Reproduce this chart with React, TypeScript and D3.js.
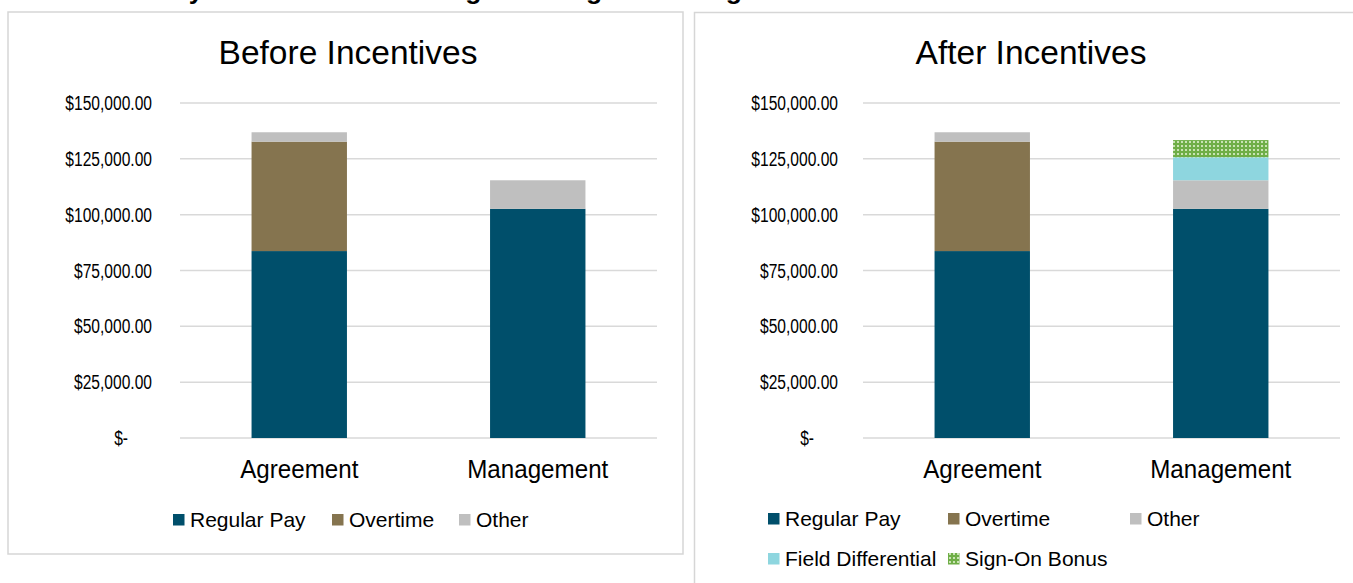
import React from "react";
import * as d3 from "d3";

const categories = ["Agreement", "Management"];
const yTicks = [0, 25000, 50000, 75000, 100000, 125000, 150000];

const beforeSeries = ["Regular Pay", "Overtime", "Other"];
const afterSeries = ["Regular Pay", "Overtime", "Other", "Field Differential", "Sign-On Bonus"];

const regularPay = [83700, 102600];
const overtime = [49000, 0];
const other = [4200, 12800];
const fieldDifferential = [0, 10300];
const signOnBonus = [0, 7700];

const seriesColors: Record<string, string> = {
  "Regular Pay": "#004f6b",
  "Overtime": "#85744f",
  "Other": "#bfbfbf",
  "Field Differential": "#8ed6df",
  "Sign-On Bonus": "url(#signon)",
};

const seriesValues: Record<string, number[]> = {
  "Regular Pay": regularPay,
  "Overtime": overtime,
  "Other": other,
  "Field Differential": fieldDifferential,
  "Sign-On Bonus": signOnBonus,
};

const FONT = "'Liberation Sans', Arial, sans-serif";

function T({ x, y, size, anchor = "start", children, weight = "normal", sx = 0.87 }: any) {
  return (
    <text
      transform={`translate(${x},${y}) scale(${sx},1)`}
      fontSize={size}
      fontFamily={FONT}
      fontWeight={weight}
      textAnchor={anchor}
      fill="#000"
    >
      {children}
    </text>
  );
}

function fmt(v: number) {
  if (v === 0) return "$-";
  return "$" + d3.format(",.2f")(v);
}

function Panel({ title, series, x0, x1, labelRight, titleX, legend }: any) {
  const y = d3.scaleLinear().domain([0, 150000]).range([438, 103]);
  const xb = d3.scaleBand().domain(categories).range([x0, x1]).paddingInner(0.6).paddingOuter(0.3);
  const table = categories.map((c, i) => {
    const row: any = { cat: c };
    series.forEach((s: string) => (row[s] = seriesValues[s][i]));
    return row;
  });
  const stacked = d3.stack().keys(series)(table);
  return (
    <g>
      <T x={titleX} y={64} size={33.5} anchor="middle" sx={1}>{title}</T>
      {yTicks.map((t) => (
        <line key={t} x1={x0} x2={x1} y1={y(t)} y2={y(t)} stroke="#d9d9d9" strokeWidth={1.5} />
      ))}
      {yTicks.map((t) => (
        <T key={t} x={t === 0 ? labelRight - 24 : labelRight} y={y(t) + 7} size={19.5} anchor="end" sx={0.8}>
          {fmt(t)}
        </T>
      ))}
      {stacked.map((layer: any) =>
        layer.map((d: any, i: number) =>
          d[1] - d[0] > 0 ? (
            <rect
              key={layer.key + i}
              x={xb(categories[i])}
              width={xb.bandwidth()}
              y={y(d[1])}
              height={y(d[0]) - y(d[1])}
              fill={seriesColors[layer.key]}
            />
          ) : null
        )
      )}
      {categories.map((c) => (
        <T key={c} x={(xb(c) as number) + xb.bandwidth() / 2} y={478} size={26} anchor="middle" sx={0.93}>
          {c}
        </T>
      ))}
      {legend.map((l: any) => (
        <g key={l.name}>
          <rect x={l.x} y={l.y - 13} width={11.5} height={11.5} fill={seriesColors[l.name]} />
          <T x={l.x + 17} y={l.y} size={21} sx={1}>{l.name}</T>
        </g>
      ))}
    </g>
  );
}

export default function App() {
  const leftLegend = [
    { name: "Regular Pay", x: 173, y: 527 },
    { name: "Overtime", x: 332, y: 527 },
    { name: "Other", x: 459, y: 527 },
  ];
  const rightLegend = [
    { name: "Regular Pay", x: 768, y: 526 },
    { name: "Overtime", x: 948, y: 526 },
    { name: "Other", x: 1130, y: 526 },
    { name: "Field Differential", x: 768, y: 566 },
    { name: "Sign-On Bonus", x: 948, y: 566 },
  ];
  return (
    <svg
      width={1353}
      height={583}
      style={{ position: "absolute", left: 0, top: 0, background: "#fff" }}
    >
      <defs>
        <pattern id="signon" width={4} height={4} patternUnits="userSpaceOnUse">
          <rect width={4} height={4} fill="#6fae47" />
          <rect x={1} y={1} width={2} height={2} fill="#c9e3b4" />
        </pattern>
      </defs>
      <text x={124} y={-1} fontSize={26.5} fontWeight="bold" fontFamily={FONT}>
        Salary Breakdown of Average Earnings Including Incentives
      </text>
      <rect x={8} y={12} width={675} height={542} fill="none" stroke="#d6d6d6" strokeWidth={1.5} />
      <path d="M694.5,583 V12.5 H1353" fill="none" stroke="#d6d6d6" strokeWidth={1.5} />
      <Panel
        title="Before Incentives"
        series={beforeSeries}
        x0={180}
        x1={657}
        labelRight={152}
        titleX={348}
        legend={leftLegend}
      />
      <Panel
        title="After Incentives"
        series={afterSeries}
        x0={863}
        x1={1340}
        labelRight={838}
        titleX={1031}
        legend={rightLegend}
      />
    </svg>
  );
}
